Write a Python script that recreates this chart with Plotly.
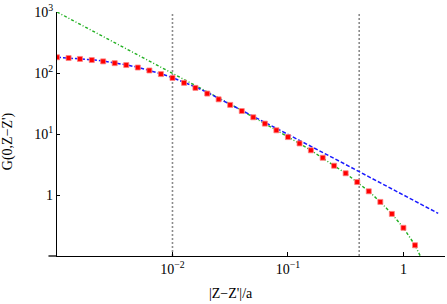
import plotly.graph_objects as go

# data
x_pts = [0.001, 0.00126, 0.00158, 0.002, 0.00251, 0.00316, 0.00398, 0.00501, 0.00631, 0.00794,
         0.01, 0.0126, 0.0158, 0.02, 0.0251, 0.0316, 0.0398, 0.0501, 0.0631, 0.0794,
         0.1, 0.126, 0.158, 0.2, 0.251, 0.316, 0.398, 0.501, 0.631, 0.794, 1.0, 1.26]
g_pts = [181, 176, 170, 163, 155, 145, 135, 123, 110, 96,
         83, 69, 57, 46, 37, 30, 23.8, 18.8, 14.8, 11.5,
         8.9, 7.0, 5.4, 4.08, 3.02, 2.27, 1.63, 1.15, 0.77, 0.49, 0.29, 0.15]

x_blue = [0.001, 0.00126, 0.00158, 0.002, 0.00251, 0.00316, 0.00398, 0.00501, 0.00631, 0.00794,
          0.01, 0.0126, 0.0158, 0.02, 0.0251, 0.0316, 0.0398, 0.0501, 0.0631, 0.0794,
          0.1, 0.126, 0.158, 0.2, 0.251, 0.316, 0.398, 0.501, 0.631, 0.794, 1.0, 1.26, 1.58, 2.0]
g_blue = [181, 177, 172, 165, 157, 147, 136, 124, 111, 97,
          84, 71, 59, 48, 38.5, 30.8, 24.6, 19.6, 15.6, 12.4,
          9.9, 7.9, 6.29, 5.0, 3.98, 3.16, 2.51, 2.0, 1.58, 1.26, 1.0, 0.79, 0.63, 0.5]

x_green = [0.001, 0.00316, 0.01, 0.0158, 0.0251, 0.0316, 0.0398, 0.0501, 0.0631, 0.0794,
           0.1, 0.126, 0.158, 0.2, 0.251, 0.316, 0.398, 0.501, 0.631, 0.794, 1.0, 1.26, 1.40]
g_green = [1000, 316, 100, 62.5, 39.3, 31.0, 24.2, 19.0, 14.9, 11.6,
           9.0, 7.0, 5.4, 4.08, 3.02, 2.27, 1.63, 1.15, 0.77, 0.49, 0.29, 0.15, 0.1]

vlines = [0.01, 0.414]

x_tickvals = [0.01, 0.1, 1]
x_ticktext = ["10<sup>−2</sup>", "10<sup>−1</sup>", "1"]
y_tickvals = [1000, 100, 10, 1]
y_ticktext = ["10<sup>3</sup>", "10<sup>2</sup>", "10<sup>1</sup>", "1"]

FONT = "Liberation Serif"

fig = go.Figure()
for xv in vlines:
    fig.add_trace(go.Scatter(x=[xv, xv], y=[0.1, 1000], mode="lines",
                             line=dict(color="#8c8c8c", width=1.6, dash="2px,2px"),
                             showlegend=False, hoverinfo="skip"))
fig.add_trace(go.Scatter(x=x_green, y=g_green, mode="lines",
                         line=dict(color="#22b022", width=1.4, dash="3px,2px,1px,2px"),
                         showlegend=False))
fig.add_trace(go.Scatter(x=x_blue, y=g_blue, mode="lines",
                         line=dict(color="#1a1aff", width=1.5, dash="4px,2px"),
                         showlegend=False))
fig.add_trace(go.Scatter(x=x_pts, y=g_pts, mode="markers",
                         marker=dict(symbol="square", size=5, color="#ff0000",
                                     line=dict(color="#ff8080", width=0.8)),
                         showlegend=False))

fig.update_xaxes(type="log", range=[-3, 0.36], showgrid=False, zeroline=False,
                 automargin=False,
                 showline=True, linecolor="black", linewidth=1.3,
                 ticks="inside", ticklen=4, tickcolor="black", tickwidth=1,
                 tickvals=x_tickvals, ticktext=x_ticktext,
                 tickfont=dict(family=FONT, size=14, color="black"))
fig.update_yaxes(type="log", range=[-1, 3], showgrid=False, zeroline=False,
                 automargin=False,
                 showline=True, linecolor="black", linewidth=1.3,
                 ticks="inside", ticklen=3, tickcolor="black", tickwidth=1,
                 tickvals=y_tickvals, ticktext=y_ticktext,
                 tickfont=dict(family=FONT, size=14, color="black"))

fig.add_shape(type="line", xref="paper", yref="paper", x0=-0.022, x1=0, y0=0, y1=0,
              line=dict(color="black", width=1.3))

fig.add_annotation(text="|Z−Z'|/a", xref="paper", yref="paper", x=0.448, y=-0.152,
                   showarrow=False, font=dict(family=FONT, size=14, color="black"),
                   xanchor="center", yanchor="middle")
fig.add_annotation(text="G(0,Z−Z')", xref="paper", yref="paper", x=-0.126, y=0.471,
                   showarrow=False, textangle=-90, font=dict(family=FONT, size=14, color="black"),
                   xanchor="center", yanchor="middle")

fig.update_layout(width=447, height=304, margin=dict(l=57, r=2, t=12, b=48),
                  plot_bgcolor="white", paper_bgcolor="white")

# remove the page's default 8px body margin so the figure sits at the window origin
fig.write_html("out.html", config={"displayModeBar": False},
               post_script="document.body.style.margin='0px';")
